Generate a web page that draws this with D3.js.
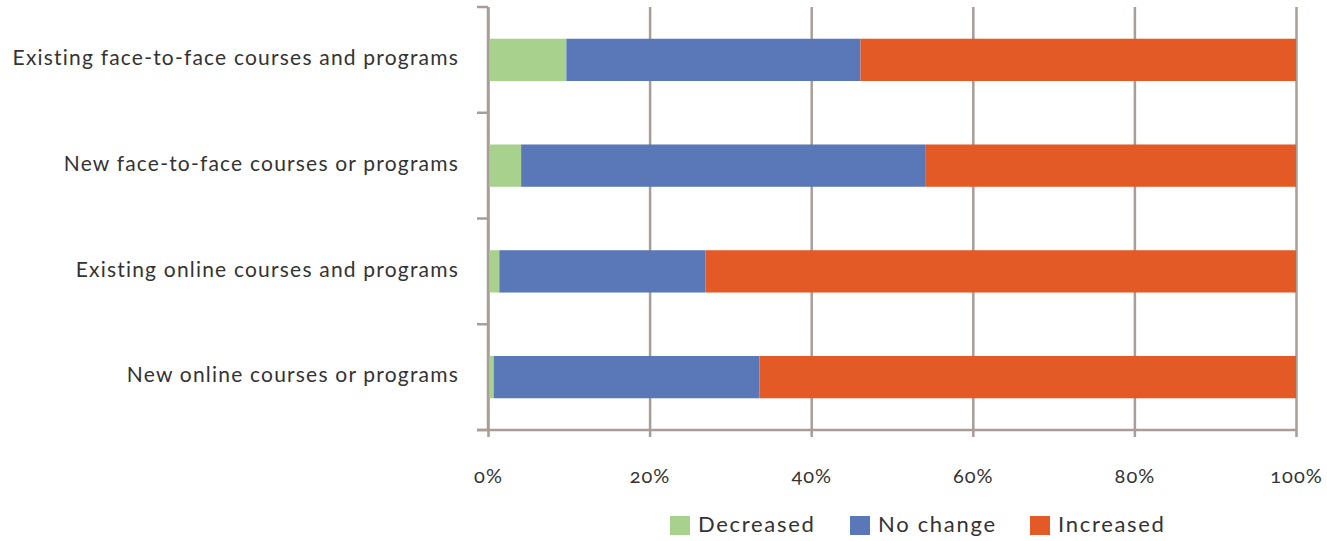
<!DOCTYPE html>
<html><head><meta charset="utf-8">
<script src="https://cdn.jsdelivr.net/npm/d3@7/dist/d3.min.js"></script>
<style>
html,body{margin:0;padding:0;background:#fff;}
svg{display:block;}
text{font-family:Lato,"Open Sans",sans-serif;fill:#333;}
</style></head>
<body>
<svg id="chart" width="1327" height="541"></svg>
<script>
const categories = [
  "Existing face-to-face courses and programs",
  "New face-to-face courses or programs",
  "Existing online courses and programs",
  "New online courses or programs"
];
const seriesNames = ["Decreased", "No change", "Increased"];
const decreased = [9.7, 4.1, 1.4, 0.7];
const noChange = [36.4, 50.0, 25.5, 32.9];
const increased = [53.9, 45.9, 73.1, 66.4];
const xTicks = [0, 20, 40, 60, 80, 100];
const colors = ["#a9d18e", "#5a77b8", "#e35a27"];

const svg = d3.select("#chart");
const pLeft = 488, pRight = 1296, pTop = 7, pBottom = 430;
const gridColor = "#a99d98";

const x = d3.scaleLinear().domain([0, 100]).range([pLeft, pRight]);
const y = d3.scaleBand().domain(categories).range([pTop, pBottom]).paddingInner(0.6).paddingOuter(0.3);

const rows = categories.map((c, i) => ({cat: c, "Decreased": decreased[i], "No change": noChange[i], "Increased": increased[i]}));
const stack = d3.stack().keys(seriesNames)(rows);

// gridlines + bottom ticks
const gx = svg.append("g").attr("transform", `translate(0,${pBottom})`)
  .call(d3.axisBottom(x).tickValues(xTicks).tickSizeInner(-(pBottom - pTop)).tickSizeOuter(0).tickFormat(""));
gx.select(".domain").remove();
gx.selectAll("line").attr("stroke", gridColor).attr("stroke-width", 2.5).attr("y2", -(pBottom - pTop)).attr("y1", 7);

// bars
svg.append("g").selectAll("g").data(stack).join("g")
  .attr("fill", (d, i) => colors[i])
  .selectAll("rect").data(d => d).join("rect")
  .attr("x", d => x(d[0]))
  .attr("width", d => x(d[1]) - x(d[0]))
  .attr("y", d => y(d.data.cat))
  .attr("height", y.bandwidth());

// x axis line and labels
svg.append("line").attr("x1", pLeft - 11).attr("x2", pRight).attr("y1", pBottom).attr("y2", pBottom)
  .attr("stroke", gridColor).attr("stroke-width", 2.5);
svg.append("g").selectAll("text").data(xTicks).join("text")
  .attr("x", d => x(d) + 0.5).attr("y", pBottom + 48)
  .attr("text-anchor", "middle").attr("dominant-baseline", "middle")
  .style("font-size", "20px").style("letter-spacing", "1px").style("font-variant-numeric", "oldstyle-nums")
  .text(d => d + "%");

// y axis line with ticks at band boundaries
svg.append("line").attr("x1", pLeft).attr("x2", pLeft).attr("y1", pTop).attr("y2", pBottom)
  .attr("stroke", gridColor).attr("stroke-width", 2.5);
const bounds = categories.map((c, i) => pTop + i * y.step()).concat([pBottom]);
svg.append("g").selectAll("line").data(bounds).join("line")
  .attr("x1", pLeft - 11).attr("x2", pLeft).attr("y1", d => d).attr("y2", d => d)
  .attr("stroke", gridColor).attr("stroke-width", 2.5);

// category labels
svg.append("g").selectAll("text").data(categories).join("text")
  .attr("x", 459).attr("y", d => y(d) + y.bandwidth() / 2)
  .attr("text-anchor", "end").attr("dominant-baseline", "middle")
  .style("font-size", "21px").style("letter-spacing", "1.2px")
  .text(d => d);

// legend
const legendX = [670, 850, 1030];
const lg = svg.append("g").selectAll("g").data(seriesNames).join("g")
  .attr("transform", (d, i) => `translate(${legendX[i]},516)`);
lg.append("rect").attr("width", 20).attr("height", 19).attr("fill", (d, i) => colors[i]);
lg.append("text").attr("x", 28).attr("y", 10).attr("dominant-baseline", "middle")
  .style("font-size", "22px").style("letter-spacing", "1.7px").text(d => d);
</script>
</body></html>
